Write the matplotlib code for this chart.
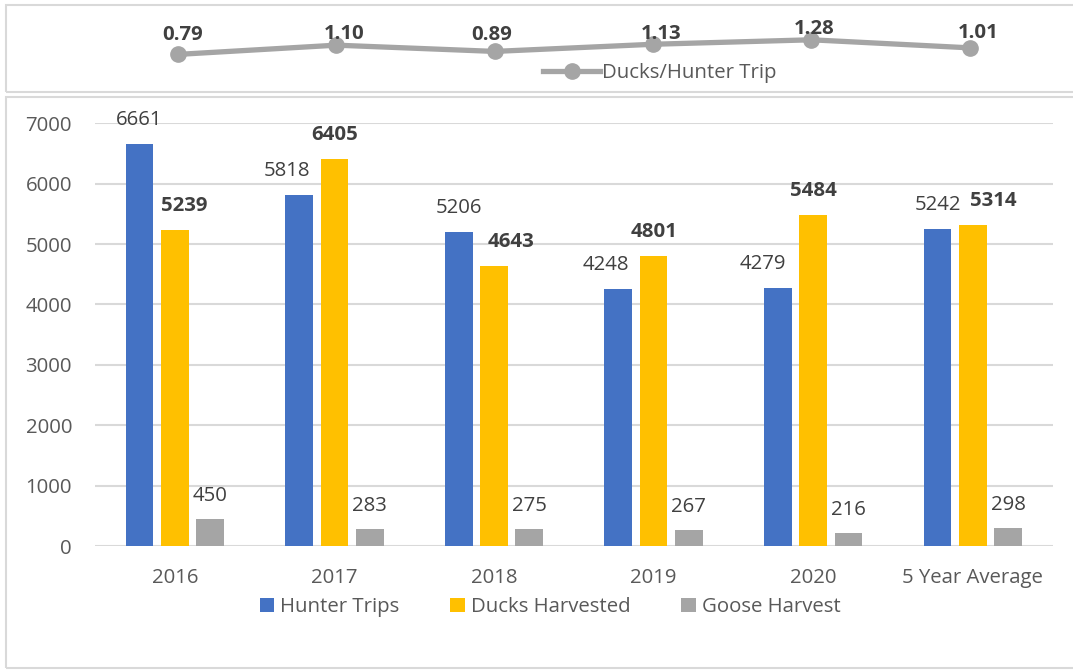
import numpy as np
import matplotlib.pyplot as plt
from matplotlib.patches import Rectangle

plt.rcParams['font.family'] = ['Open Sans', 'DejaVu Sans']

categories = ['2016', '2017', '2018', '2019', '2020', '5 Year Average']
hunter_trips = [6661, 5818, 5206, 4248, 4279, 5242]
ducks_harvested = [5239, 6405, 4643, 4801, 5484, 5314]
goose_harvest = [450, 283, 275, 267, 216, 298]
ducks_per_trip = [0.79, 1.10, 0.89, 1.13, 1.28, 1.01]

BLUE = '#4472C4'
GOLD = '#FFC000'
GREY = '#A5A5A5'
TEXT = '#404040'
TICK = '#595959'
GRID = '#D9D9D9'
FS = 14.7

fig = plt.figure(figsize=(10.73, 6.70), dpi=100)
W, H = 1073, 670

# panel frames
fig.patches.append(Rectangle((6 / W, 1 - 92 / H), 1.1, 87 / H, transform=fig.transFigure,
                             fill=False, edgecolor=GRID, lw=1.5))
fig.patches.append(Rectangle((6 / W, 1 - 668 / H), 1.1, 571 / H, transform=fig.transFigure,
                             fill=False, edgecolor=GRID, lw=1.5))

# bar chart
ax = fig.add_axes([95 / W, 1 - 546 / H, 957.6 / W, 422.7 / H])
x = np.arange(len(categories))
w = 0.174
step = 0.221
ax.bar(x - step, hunter_trips, w, color=BLUE, label='Hunter Trips', zorder=3)
ax.bar(x, ducks_harvested, w, color=GOLD, label='Ducks Harvested', zorder=3)
ax.bar(x + step, goose_harvest, w, color=GREY, label='Goose Harvest', zorder=3)

ax.set_xlim(-0.5, len(categories) - 0.5)
ax.set_ylim(0, 7000)
ax.set_yticks(range(0, 7001, 1000))
ax.set_xticks(x)
ax.set_xticklabels(categories)
ax.tick_params(axis='both', length=0, labelsize=FS, labelcolor=TICK)
ax.tick_params(axis='x', pad=16)
ax.tick_params(axis='y', pad=16.5)
ax.grid(axis='y', color=GRID, lw=1.5, zorder=0)
for s in ax.spines.values():
    s.set_visible(False)

hunter_dx = [0, -12, 0, -12, -15, 0]
ducks_dx = [9, 0, 17, 0, 0, 21]
for i in range(len(categories)):
    ax.annotate(str(hunter_trips[i]), (x[i] - step, hunter_trips[i]), xytext=(hunter_dx[i], 24),
                textcoords='offset pixels', ha='center', va='center', fontsize=FS, color=TEXT)
    ax.annotate(str(ducks_harvested[i]), (x[i], ducks_harvested[i]), xytext=(ducks_dx[i], 24),
                textcoords='offset pixels', ha='center', va='center', fontsize=FS, color=TEXT,
                fontweight='bold')
    ax.annotate(str(goose_harvest[i]), (x[i] + step, goose_harvest[i]), xytext=(0, 23),
                textcoords='offset pixels', ha='center', va='center', fontsize=FS, color=TEXT)

fig.legend(*ax.get_legend_handles_labels(), loc='center', bbox_to_anchor=(550 / W, 1 - 607 / H),
           ncol=3, frameon=False, fontsize=FS, labelcolor=TICK, handlelength=0.7,
           handleheight=0.7, handletextpad=0.3, columnspacing=2.5)

# ratio line
ax2 = fig.add_axes([98.8 / W, 1 - 85 / H, 950.1 / W, 75 / H])
ax2.plot(x, ducks_per_trip, color=GREY, lw=3.8, marker='o', markersize=11,
         label='Ducks/Hunter Trip')
ax2.set_xlim(-0.5, len(categories) - 0.5)
ax2.set_ylim(-0.237, 2.28)
ax2.axis('off')
label_dx = [5, 8, -3, 8, 3, 8]
label_dy = [19, 11, 16, 10, 11, 15]
for i, v in enumerate(ducks_per_trip):
    ax2.annotate(f'{v:.2f}', (x[i], v), xytext=(label_dx[i], label_dy[i]), textcoords='offset pixels',
                 ha='center', va='center', fontsize=FS, color=TEXT, fontweight='bold')

fig.legend(*ax2.get_legend_handles_labels(), loc='center', bbox_to_anchor=(660 / W, 1 - 73 / H),
           frameon=False, fontsize=FS, labelcolor=TICK, handlelength=2.8, handletextpad=0.1)

fig.savefig('out.png', dpi=100)
